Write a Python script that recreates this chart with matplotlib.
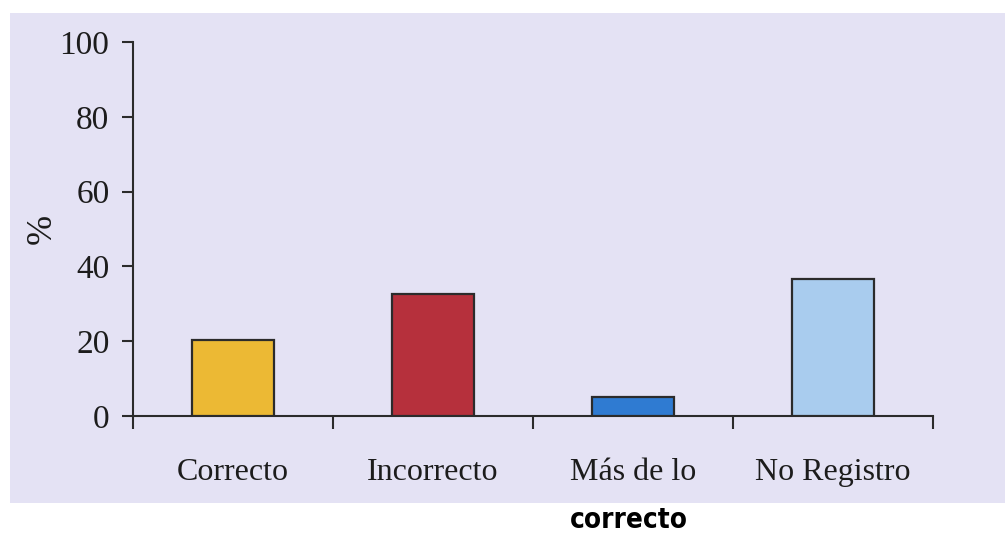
import matplotlib.pyplot as plt
from matplotlib.patches import Rectangle
import numpy as np

# Datos
categorias = ["Correcto", "Incorrecto", "Más de lo", "No Registro"]
porcentajes = [20.2, 32.6, 5.0, 36.6]
colores = ["#ECB934", "#B6303C", "#2F7BD2", "#A9CCEE"]
yticks = [0, 20, 40, 60, 80, 100]

fondo = "#E4E2F4"
linea = "#2B2B2B"
texto = "#1C1C1C"

fig = plt.figure(figsize=(10.05, 5.33), dpi=100)
fig.patch.set_facecolor("white")

# Panel de fondo lila (detrás de los ejes)
fig.add_artist(Rectangle((10 / 1005, 30 / 533), 1 - 10 / 1005, 490 / 533,
                         transform=fig.transFigure, facecolor=fondo,
                         edgecolor="none", zorder=-1))

ax = fig.add_axes([133 / 1005, 117 / 533, 800 / 1005, 374 / 533], zorder=1)
ax.set_facecolor("none")

x = np.arange(len(categorias)) + 0.5
ax.bar(x, porcentajes, width=0.41, color=colores, edgecolor=linea,
       linewidth=1.6, zorder=3)

ax.set_xlim(0, 4)
ax.set_ylim(0, 100)

for s in ["top", "right"]:
    ax.spines[s].set_visible(False)
for s in ["left", "bottom"]:
    ax.spines[s].set_color(linea)
    ax.spines[s].set_linewidth(1.5)

serif = "Liberation Serif"

ax.set_yticks(yticks)
ax.set_yticklabels([str(v) for v in yticks], family=serif, fontsize=24,
                   color=texto)
ax.tick_params(axis="y", direction="out", length=8, width=1.5, color=linea,
               pad=9)

# Separadores de categoría en el eje x
ax.set_xticks(np.arange(0, 5))
ax.set_xticklabels([])
ax.tick_params(axis="x", which="major", direction="out", length=9, width=1.5,
               color=linea)
ax.set_xticks(x, minor=True)
ax.set_xticklabels(categorias, minor=True, family=serif, fontsize=23,
                   color=texto)
ax.tick_params(axis="x", which="minor", length=0, pad=30)

ax.set_ylabel("%", family=serif, fontsize=26, color=texto)
ax.yaxis.set_label_coords(-74 / 800, 0.5)

# Segunda línea de "Más de lo"
fig.text(629 / 1005, 1 - 520 / 533, "correcto", ha="center", va="center",
         family="DejaVu Sans", fontstretch="condensed", fontweight="bold",
         fontsize=20, color="black")

fig.savefig("out.png", dpi=100, facecolor=fig.get_facecolor())
